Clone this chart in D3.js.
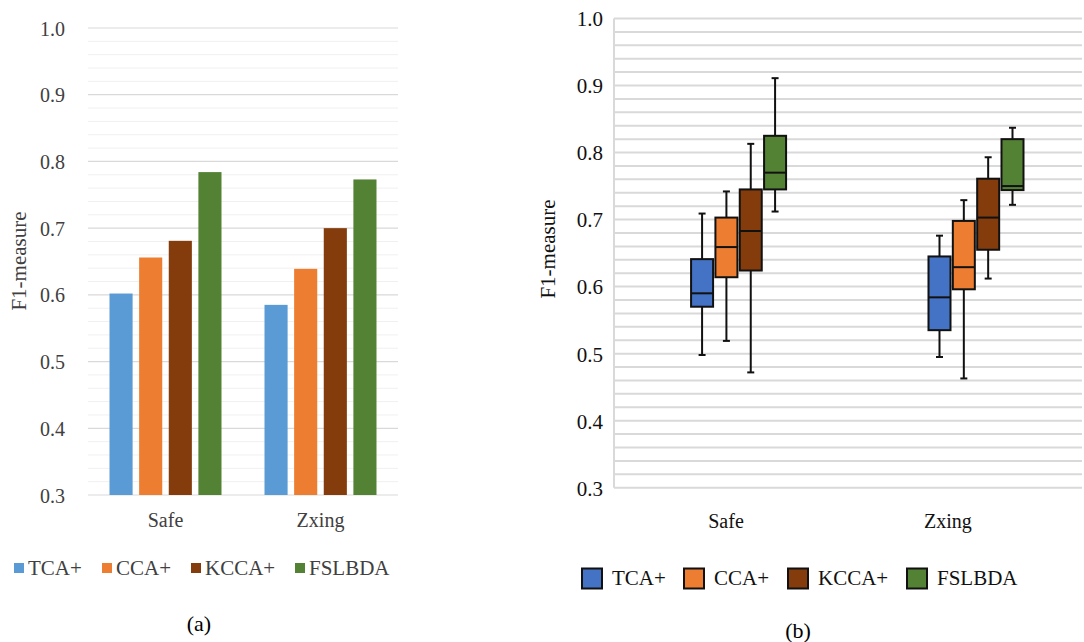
<!DOCTYPE html>
<html>
<head>
<meta charset="utf-8">
<script src="https://cdn.jsdelivr.net/npm/d3@7"></script>
<style>
  html, body { margin: 0; padding: 0; background: #fff; }
  svg { display: block; }
  svg text { font-family: "Liberation Serif", "Times New Roman", Tinos, "DejaVu Serif", serif !important; }
</style>
</head>
<body>
<svg id="chart" width="1084" height="642"></svg>
<script>
// ---- data ----
const categories = ["Safe", "Zxing"];
const methods = ["TCA+", "CCA+", "KCCA+", "FSLBDA"];
const yTicks = [0.3, 0.4, 0.5, 0.6, 0.7, 0.8, 0.9, 1.0];

// (a) mean F1-measure per project
const meanTCA = [0.602, 0.585];
const meanCCA = [0.656, 0.639];
const meanKCCA = [0.681, 0.700];
const meanFSLBDA = [0.784, 0.773];

// (b) box statistics per project: [min, q1, median, q3, max]
const boxTCA = [[0.498, 0.570, 0.590, 0.641, 0.709], [0.495, 0.535, 0.584, 0.645, 0.676]];
const boxCCA = [[0.519, 0.614, 0.659, 0.703, 0.742], [0.463, 0.596, 0.629, 0.698, 0.729]];
const boxKCCA = [[0.472, 0.624, 0.683, 0.745, 0.813], [0.612, 0.655, 0.703, 0.761, 0.793]];
const boxFSLBDA = [[0.712, 0.745, 0.770, 0.825, 0.911], [0.722, 0.744, 0.750, 0.820, 0.837]];

const barColors = ["#5B9BD5", "#ED7D31", "#843C0C", "#548235"];
const boxColors = ["#4472C4", "#ED7D31", "#843C0C", "#548235"];

const means = [meanTCA, meanCCA, meanKCCA, meanFSLBDA];
const boxes = [boxTCA, boxCCA, boxKCCA, boxFSLBDA];

const FONT = "'Liberation Serif', 'Times New Roman', Tinos, 'DejaVu Serif', serif";
const svg = d3.select("#chart").attr("font-family", FONT);
const minorTicks = d3.range(30, 101, 2).map(v => v / 100);

// ================= (a) grouped bar chart =================
{
  const left = 88, right = 398, top = 28, bottom = 495;
  const y = d3.scaleLinear().domain([0.3, 1.0]).range([bottom, top]);
  const x0 = d3.scaleBand().domain(categories).range([left, right]);
  const x1 = d3.scaleBand().domain(methods).range([0, 112]).paddingInner(0.22);

  const g = svg.append("g");
  // minor gridlines
  g.selectAll("line.minor").data(minorTicks.filter(v => Math.round(v * 100) % 10 !== 0))
    .join("line")
    .attr("x1", left).attr("x2", right)
    .attr("y1", d => y(d)).attr("y2", d => y(d))
    .attr("stroke", "#f0f0f0").attr("stroke-width", 1);
  // major gridlines
  g.selectAll("line.major").data(yTicks).join("line")
    .attr("x1", left).attr("x2", right)
    .attr("y1", d => y(d)).attr("y2", d => y(d))
    .attr("stroke", "#d9d9d9").attr("stroke-width", 1.2);

  // y axis labels
  const yAxis = d3.axisLeft(y).tickValues(yTicks).tickFormat(d3.format(".1f")).tickSize(0).tickPadding(0);
  const ya = g.append("g").attr("transform", "translate(65,0)").call(yAxis).attr("font-family", FONT);
  ya.select(".domain").remove();
  ya.selectAll("text").attr("fill", "#404040").attr("font-size", 20).attr("dy", "0.35em");

  // bars
  methods.forEach((m, i) => {
    g.selectAll("rect.b" + i).data(means[i]).join("rect")
      .attr("x", (d, j) => x0(categories[j]) + x0.bandwidth() / 2 - 56 + x1(m))
      .attr("width", x1.bandwidth())
      .attr("y", d => y(d))
      .attr("height", d => y(0.3) - y(d))
      .attr("fill", barColors[i]);
  });

  // category labels
  g.selectAll("text.cat").data(categories).join("text")
    .attr("x", d => x0(d) + x0.bandwidth() / 2)
    .attr("y", 527)
    .attr("text-anchor", "middle")
    .attr("font-size", 20).attr("fill", "#404040")
    .text(d => d);

  // y title
  g.append("text")
    .attr("transform", "translate(26,261) rotate(-90)")
    .attr("text-anchor", "middle")
    .attr("font-size", 21).attr("fill", "#404040")
    .text("F1-measure");

  // legend
  const legX = [14, 102, 191, 295];
  methods.forEach((m, i) => {
    g.append("rect").attr("x", legX[i]).attr("y", 563).attr("width", 10).attr("height", 10)
      .attr("fill", barColors[i]);
    g.append("text").attr("x", legX[i] + 14).attr("y", 575)
      .attr("font-size", 21).attr("fill", "#404040").text(m);
  });

  g.append("text").attr("x", 199).attr("y", 631).attr("text-anchor", "middle")
    .attr("font-size", 22).attr("fill", "#000").text("(a)");
}

// ================= (b) box plots =================
{
  const left = 614, right = 1082, top = 18.5, bottom = 487.7;
  const y = d3.scaleLinear().domain([0.3, 1.0]).range([bottom, top]);
  const w = right - left;
  // label positions and box group centres along the category axis
  const xLabel = d3.scalePoint().domain(categories).range([left + w * 0.2393, left + w * 0.7134]);
  const xGroup = d3.scalePoint().domain(categories).range([left + w * 0.2662, left + w * 0.7735]);
  const xInner = d3.scalePoint().domain(methods).range([-36.5, 36.5]);
  const bw = 22;

  const g = svg.append("g");
  g.selectAll("line.grid").data(minorTicks).join("line")
    .attr("x1", left).attr("x2", right)
    .attr("y1", d => y(d)).attr("y2", d => y(d))
    .attr("stroke", "#d9d9d9").attr("stroke-width", 2);
  g.append("line").attr("x1", left).attr("x2", left).attr("y1", top).attr("y2", bottom)
    .attr("stroke", "#d9d9d9").attr("stroke-width", 2);

  const yAxis = d3.axisLeft(y).tickValues(yTicks).tickFormat(d3.format(".1f")).tickSize(0).tickPadding(0);
  const ya = g.append("g").attr("transform", "translate(603,0)").call(yAxis).attr("font-family", FONT);
  ya.select(".domain").remove();
  ya.selectAll("text").attr("fill", "#111").attr("font-size", 21).attr("dy", "0.35em");

  methods.forEach((m, i) => {
    boxes[i].forEach((s, j) => {
      const cx = xGroup(categories[j]) + xInner(m);
      const [mn, q1, med, q3, mx] = s;
      const bg = g.append("g");
      bg.append("line").attr("x1", cx).attr("x2", cx).attr("y1", y(mx)).attr("y2", y(q3))
        .attr("stroke", "#111").attr("stroke-width", 2);
      bg.append("line").attr("x1", cx).attr("x2", cx).attr("y1", y(q1)).attr("y2", y(mn))
        .attr("stroke", "#111").attr("stroke-width", 2);
      [mn, mx].forEach(v => bg.append("line")
        .attr("x1", cx - 3.5).attr("x2", cx + 3.5).attr("y1", y(v)).attr("y2", y(v))
        .attr("stroke", "#111").attr("stroke-width", 2));
      bg.append("rect").attr("x", cx - bw / 2).attr("width", bw)
        .attr("y", y(q3)).attr("height", y(q1) - y(q3))
        .attr("fill", boxColors[i]).attr("stroke", "#111").attr("stroke-width", 2);
      bg.append("line").attr("x1", cx - bw / 2).attr("x2", cx + bw / 2)
        .attr("y1", y(med)).attr("y2", y(med))
        .attr("stroke", "#111").attr("stroke-width", 2);
    });
  });

  g.selectAll("text.cat").data(categories).join("text")
    .attr("x", d => xLabel(d))
    .attr("y", 528)
    .attr("text-anchor", "middle")
    .attr("font-size", 20).attr("fill", "#111")
    .text(d => d);

  g.append("text")
    .attr("transform", "translate(555,249) rotate(-90)")
    .attr("text-anchor", "middle")
    .attr("font-size", 21).attr("fill", "#111")
    .text("F1-measure");

  const legX = [582, 684, 788, 907];
  methods.forEach((m, i) => {
    g.append("rect").attr("x", legX[i]).attr("y", 568.5).attr("width", 20).attr("height", 20)
      .attr("fill", boxColors[i]).attr("stroke", "#111").attr("stroke-width", 2);
    g.append("text").attr("x", legX[i] + 30).attr("y", 585)
      .attr("font-size", 21).attr("fill", "#111").text(m);
  });

  g.append("text").attr("x", 798).attr("y", 638).attr("text-anchor", "middle")
    .attr("font-size", 22).attr("fill", "#000").text("(b)");
}
</script>
</body>
</html>
